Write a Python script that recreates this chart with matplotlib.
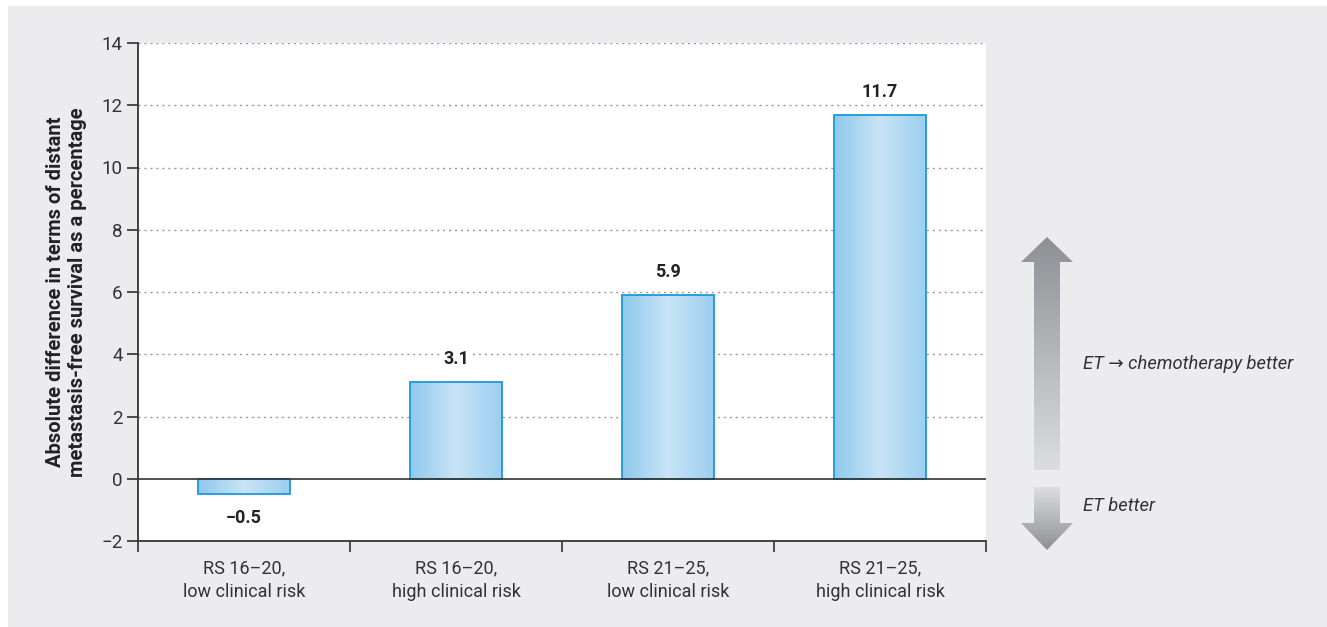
import numpy as np
import matplotlib
matplotlib.use("Agg")
import matplotlib.pyplot as plt
from matplotlib.patches import Rectangle, Polygon
from matplotlib.colors import LinearSegmentedColormap

plt.rcParams["font.family"] = ["Roboto", "DejaVu Sans"]

categories = ["RS 16\u201320,\nlow clinical risk", "RS 16\u201320,\nhigh clinical risk",
              "RS 21\u201325,\nlow clinical risk", "RS 21\u201325,\nhigh clinical risk"]
values = [-0.5, 3.1, 5.9, 11.7]
yticks = [-2, 0, 2, 4, 6, 8, 10, 12, 14]
ylabel = "Absolute difference in terms of distant\nmetastasis-free survival as a percentage"
up_text = "ET \u2192 chemotherapy better"
down_text = "ET better"

W, H = 1327, 627
BG = "#ececee"
TXT = "#333333"

fig = plt.figure(figsize=(W / 100, H / 100), dpi=100, facecolor="white")
fig.patches.append(Rectangle((8 / W, 0), 1, 1 - 6 / H, transform=fig.transFigure,
                             facecolor=BG, edgecolor="none", zorder=-10))

ax = fig.add_axes([138 / W, 1 - 541 / H, (986 - 138) / W, (541 - 43) / H])
ax.set_facecolor("white")

x = np.arange(len(values))
bars = ax.bar(x, values, width=0.43, facecolor="none", edgecolor="#1b9ad6",
              linewidth=1.3, zorder=3)

# horizontal light-blue gradient inside each bar
bar_cmap = LinearSegmentedColormap.from_list("bar", ["#8fc8ed", "#c9e4f6", "#9ccff0"])
grad = np.linspace(0, 1, 256).reshape(1, -1)
for b in bars:
    x0, y0 = b.get_x(), b.get_y()
    w, h = b.get_width(), b.get_height()
    im = ax.imshow(grad, cmap=bar_cmap, aspect="auto", zorder=2,
                   extent=(x0, x0 + w, min(y0, y0 + h), max(y0, y0 + h)))
    im.set_clip_path(b)

ax.set_xlim(-0.5, 3.5)
ax.set_ylim(-2, 14)

for xi, v in zip(x, values):
    lab = f"{v:.1f}".replace("-", "\u2212")
    if v >= 0:
        ax.annotate(lab, (xi, v), xytext=(0, 10), textcoords="offset points",
                    ha="center", va="bottom", fontsize=13, fontweight="bold", color="#222222",
                    bbox=dict(facecolor="white", edgecolor="none", pad=2), zorder=4)
    else:
        ax.annotate(lab, (xi, v), xytext=(0, -10.5), textcoords="offset points",
                    ha="center", va="top", fontsize=13, fontweight="bold", color="#222222",
                    bbox=dict(facecolor="white", edgecolor="none", pad=2), zorder=4)

for yv in yticks:
    if yv > 0:
        ax.axhline(yv, color="#9a9a9a", linewidth=1, linestyle=(0, (1.5, 2.8)), zorder=1)
ax.axhline(0, color=TXT, linewidth=1.2, zorder=3.5)

for s in ["top", "right"]:
    ax.spines[s].set_visible(False)
for s in ["left", "bottom"]:
    ax.spines[s].set_color(TXT)
    ax.spines[s].set_linewidth(1.3)

ax.set_yticks(yticks)
ax.set_yticklabels([str(t).replace("-", "\u2212") for t in yticks])
ax.tick_params(axis="y", direction="out", length=8, width=1.2, color=TXT,
               labelsize=13.5, labelcolor=TXT, pad=3)
ax.set_xticks(x)
ax.set_xticklabels(categories, linespacing=1.4)
ax.tick_params(axis="x", which="major", length=0, labelsize=13, labelcolor=TXT, pad=13)
ax.set_xticks([-0.5, 0.5, 1.5, 2.5, 3.5], minor=True)
ax.tick_params(axis="x", which="minor", direction="out", length=8, width=1.2, color=TXT)

ax.set_ylabel(ylabel, fontsize=14.5, fontweight="bold", color="#222222", labelpad=10,
              linespacing=1.25)

# overlay for the direction arrows
ov = fig.add_axes([0, 0, 1, 1], facecolor="none")
ov.axis("off")

arr_cmap = LinearSegmentedColormap.from_list("arr", ["#8e9095", "#dcdddf"])
cx = 1047
up = Polygon([(cx, 237), (cx + 26, 262), (cx + 13, 262), (cx + 13, 470),
              (cx - 13, 470), (cx - 13, 262), (cx - 26, 262)],
             closed=True, facecolor="none", edgecolor="none")
down = Polygon([(cx - 13, 487), (cx + 13, 487), (cx + 13, 523), (cx + 26, 523),
                (cx, 550), (cx - 26, 523), (cx - 13, 523)],
               closed=True, facecolor="none", edgecolor="none")
ov.add_patch(up)
ov.add_patch(down)
vg = np.linspace(0, 1, 256).reshape(-1, 1)
im1 = ov.imshow(vg, cmap=arr_cmap, aspect="auto", extent=(cx - 26, cx + 26, 470, 237))
im1.set_clip_path(up)
im2 = ov.imshow(vg[::-1], cmap=arr_cmap, aspect="auto", extent=(cx - 26, cx + 26, 550, 487))
im2.set_clip_path(down)
ov.set_xlim(0, W)
ov.set_ylim(H, 0)

ov.text(1083, 364, up_text, fontsize=13.2, style="italic", color=TXT, ha="left", va="center")
ov.text(1083, 506, down_text, fontsize=13.2, style="italic", color=TXT, ha="left", va="center")

fig.savefig("out.png", dpi=100, facecolor=fig.get_facecolor())
